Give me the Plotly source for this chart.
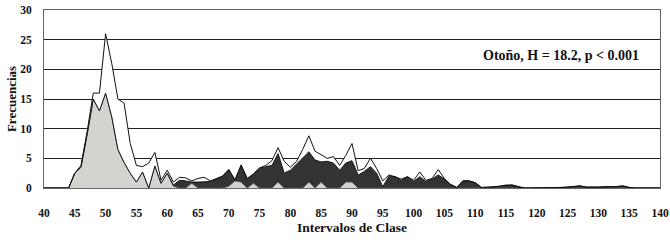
import plotly.graph_objects as go

x_bins = list(range(40, 141))

gray_vals = [0, 0, 0, 0, 0, 2.5, 3.5, 9, 15, 13,
             16, 12, 6.5, 4.3, 2.5, 1, 2.7, 0, 3.7, 0.8,
             2.5, 0.3, 0, 0, 0.8, 0, 0, 0, 0, 0,
             0.3, 1.2, 1, 0, 0.8, 0, 0, 0, 1, 0,
             0, 0, 0, 1, 0, 1, 0, 0, 0, 1,
             1, 0, 0, 0, 0, 0, 0, 0, 0, 0,
             0, 0, 0, 0, 0, 0, 0, 0, 0, 0,
             0, 0, 0, 0, 0, 0, 0, 0, 0, 0,
             0, 0, 0, 0, 0, 0, 0, 0, 0, 0,
             0, 0, 0, 0, 0, 0, 0, 0, 0, 0, 0]

dark_vals = [0, 0, 0, 0, 0, 0, 0, 0, 0, 0,
             0, 0, 0, 0, 0, 0, 0, 0, 0, 0,
             0, 0.2, 1.3, 1.2, 0.2, 1.0, 1.1, 1.1, 1.5, 2.0,
             2.8, 0, 2.8, 1.5, 1.5, 3.3, 3.6, 3.8, 4.8, 2.5,
             3.0, 4.0, 5.0, 5.1, 4.7, 3.4, 4.5, 4.2, 3.0, 3.2,
             3.6, 2.2, 2.8, 3.6, 2.5, 0.2, 2.0, 1.9, 1.3, 1.9,
             1.1, 1.9, 1.1, 1.5, 2.2, 1.5, 0.6, 0.1, 1.2, 1.2,
             0.9, 0.1, 0.1, 0.2, 0.3, 0.5, 0.5, 0.2, 0, 0,
             0, 0, 0, 0, 0.1, 0.15, 0.2, 0.35, 0.15, 0.1,
             0.15, 0.2, 0.2, 0.25, 0.35, 0.1, 0, 0, 0, 0, 0]

white_vals = [0, 0, 0, 0, 0, 0, 0.3, 0.5, 1, 3,
              10, 9, 8.5, 10, 5, 2.8, 0.9, 4.2, 2.3, 0.5,
              0.5, 0.5, 0.5, 0.5, 0.2, 0.6, 0.7, 0.1, 0.1, 0,
              0, 0.2, 0.1, 0.1, 0.1, 0.1, 0.2, 0.8, 1.0, 2.0,
              0.5, 0.5, 1.5, 2.7, 1.5, 1.2, 0.5, 1.1, 0.8, 1.3,
              2.9, 0.7, 0.5, 1.4, 0.8, 1.0, 0.2, 0, 0.2, 0,
              0.2, 0.8, 0.2, 0.1, 0.9, 0.1, 0, 0, 0, 0,
              0, 0, 0, 0, 0, 0, 0, 0, 0, 0,
              0, 0, 0, 0, 0, 0, 0, 0, 0, 0,
              0, 0, 0, 0, 0, 0, 0, 0, 0, 0, 0]

x_ticks = list(range(40, 141, 5))
y_ticks = [0, 5, 10, 15, 20, 25, 30]
x_title = "Intervalos de Clase"
y_title = "Frecuencias"
note = "Otoño, H = 18.2, p < 0.001"

FONT = "Liberation Serif"

fig = go.Figure()
fig.add_trace(go.Scatter(x=x_bins, y=gray_vals, stackgroup="s", mode="lines",
                         line=dict(color="#555555", width=1),
                         fillcolor="#d2d4d0", hoverinfo="skip"))
fig.add_trace(go.Scatter(x=x_bins, y=dark_vals, stackgroup="s", mode="lines",
                         line=dict(color="#111111", width=1),
                         fillcolor="#333333", hoverinfo="skip"))
fig.add_trace(go.Scatter(x=x_bins, y=white_vals, stackgroup="s", mode="lines",
                         line=dict(color="#111111", width=1),
                         fillcolor="#ffffff", hoverinfo="skip"))

fig.update_layout(
    width=670, height=242,
    margin=dict(l=44, r=10, t=10, b=54),
    paper_bgcolor="white", plot_bgcolor="white",
    showlegend=False,
    font=dict(family=FONT, color="#111111"),
    annotations=[dict(text="<b>" + note + "</b>", x=0.969, y=0.745,
                      xref="paper", yref="paper", xanchor="right", yanchor="middle",
                      showarrow=False, font=dict(family=FONT, size=14, color="#111"))],
)
fig.update_xaxes(range=[40, 140], tickvals=x_ticks, automargin=False,
                 ticktext=["<b>%d</b>" % v for v in x_ticks],
                 tickfont=dict(family=FONT, size=11.5), ticks="", ticklabelstandoff=14,
                 showgrid=False, zeroline=False,
                 showline=True, linecolor="#666666", linewidth=1, mirror=True,
                 title=dict(text="<b>" + x_title + "</b>", font=dict(family=FONT, size=13.5), standoff=4))
fig.update_yaxes(range=[0, 30], tickvals=y_ticks, automargin=False,
                 ticktext=["<b>%d</b>" % v for v in y_ticks],
                 tickfont=dict(family=FONT, size=11.5), ticks="", ticklabelstandoff=9,
                 showgrid=True, gridcolor="#222222", gridwidth=1, zeroline=False,
                 showline=True, linecolor="#666666", linewidth=1, mirror=True,
                 title=dict(text="<b>" + y_title + "</b>", font=dict(family=FONT, size=13), standoff=0))

fig.write_html("out.html", config={"displayModeBar": False},
               post_script="document.body.style.margin='0';")
